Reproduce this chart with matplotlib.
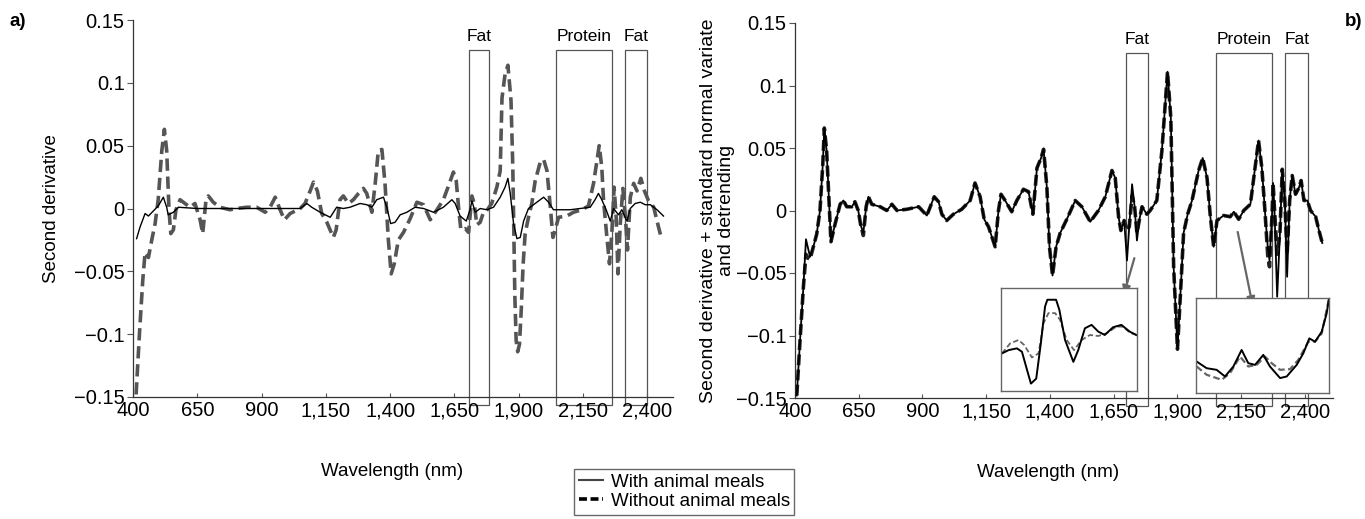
import matplotlib
matplotlib.use("Agg")
import matplotlib.pyplot as plt
from matplotlib.lines import Line2D
from matplotlib.patches import Rectangle

plt.rcParams['font.family'] = ['Liberation Sans', 'DejaVu Sans']

# ---- data ----
x_ticks = [400, 650, 900, 1150, 1400, 1650, 1900, 2150, 2400]
x_tick_labels = ['400', '650', '900', '1,150', '1,400', '1,650', '1,900', '2,150', '2,400']
y_ticks = [-0.15, -0.1, -0.05, 0, 0.05, 0.1, 0.15]
y_tick_labels = ['\u22120.15', '\u22120.1', '\u22120.05', '0', '0.05', '0.1', '0.15']

region_names = ['Fat', 'Protein', 'Fat']
a_region_start = [1707, 2046, 2314]
a_region_end = [1785, 2264, 2400]
b_region_start = [1699, 2052, 2323]
b_region_end = [1785, 2272, 2413]

# panel a, with animal meals (solid)
a_with_wl = [414, 427, 447, 460, 479, 498, 518, 531, 537, 557, 576, 650, 750, 850, 950, 1050,
             1076, 1095, 1128, 1167, 1192, 1218, 1244, 1283, 1309, 1329, 1348, 1374, 1387, 1402,
             1419, 1439, 1465, 1497, 1530, 1569, 1607, 1640, 1653, 1672, 1696, 1711, 1718, 1731,
             1750, 1776, 1802, 1828, 1847, 1858, 1867, 1880, 1893, 1906, 1919, 1938, 1964, 1997,
             2016, 2035, 2061, 2100, 2139, 2178, 2197, 2210, 2223, 2240, 2256, 2269, 2288, 2301,
             2321, 2334, 2353, 2373, 2392, 2412, 2438, 2463]
a_with = [-0.024, -0.015, -0.004, -0.006, -0.002, 0.002, 0.009, 0.001, -0.005, -0.003, 0.001, 0.0,
          0.0, 0.0, 0.0, 0.0, 0.004, 0.001, -0.003, -0.007, 0.001, 0.0, 0.001, 0.004, 0.003, 0.001,
          0.007, 0.009, 0.001, -0.012, -0.011, -0.005, -0.003, 0.001, 0.0, -0.003, 0.001, 0.007,
          0.004, -0.006, -0.010, -0.001, 0.006, -0.003, 0.0, -0.001, 0.001, 0.009, 0.017, 0.024,
          0.012, -0.012, -0.024, -0.023, -0.010, 0.0, 0.004, 0.009, 0.005, -0.001, -0.001, -0.001,
          0.0, 0.001, 0.007, 0.012, 0.007, -0.001, -0.010, 0.0, -0.005, -0.001, -0.010, 0.0, 0.004,
          0.005, 0.003, 0.003, -0.001, -0.006]

# panel a, without animal meals (dashed)
a_without_wl = [412, 425, 438, 447, 460, 473, 486, 498, 512, 522, 531, 540, 547, 557, 567, 583, 602,
                622, 641, 661, 671, 684, 693, 712, 738, 777, 803, 842, 881, 914, 933, 953, 972, 989,
                1011, 1050, 1069, 1089, 1102, 1117, 1134, 1154, 1179, 1190, 1205, 1218, 1238, 1257,
                1277, 1296, 1309, 1329, 1342, 1354, 1368, 1380, 1393, 1404, 1416, 1432, 1452, 1478,
                1504, 1530, 1556, 1582, 1607, 1627, 1646, 1657, 1666, 1675, 1692, 1705, 1718, 1727,
                1737, 1750, 1763, 1778, 1795, 1815, 1828, 1835, 1847, 1858, 1870, 1877, 1881, 1885,
                1890, 1896, 1903, 1910, 1917, 1925, 1938, 1951, 1964, 1984, 1997, 2010, 2023, 2033,
                2042, 2055, 2087, 2113, 2145, 2171, 2191, 2213, 2223, 2230, 2243, 2253, 2262, 2271,
                2279, 2286, 2295, 2305, 2315, 2323, 2334, 2347, 2360, 2375, 2389, 2405, 2425, 2444,
                2454]
a_without = [-0.148, -0.100, -0.057, -0.035, -0.039, -0.025, -0.012, 0.007, 0.046, 0.063, 0.046,
             -0.001, -0.020, -0.017, -0.001, 0.007, 0.004, 0.001, 0.004, -0.009, -0.020, 0.007,
             0.010, 0.005, 0.001, -0.001, 0.0, 0.001, 0.001, -0.003, 0.001, 0.009, -0.001, -0.009,
             -0.004, 0.0, 0.004, 0.014, 0.021, 0.014, -0.004, -0.011, -0.023, -0.017, 0.007, 0.010,
             0.004, 0.007, 0.012, 0.016, 0.012, -0.003, 0.020, 0.046, 0.047, 0.020, -0.025, -0.052,
             -0.044, -0.025, -0.019, -0.008, 0.005, 0.003, -0.009, -0.001, 0.007, 0.018, 0.029,
             0.022, 0.001, -0.017, -0.016, -0.019, 0.010, 0.004, -0.013, -0.011, -0.003, -0.001,
             0.004, 0.017, 0.030, 0.088, 0.107, 0.114, 0.086, 0.033, -0.020, -0.070, -0.105,
             -0.114, -0.108, -0.080, -0.045, -0.020, -0.007, 0.004, 0.022, 0.037, 0.039, 0.030,
             0.001, -0.023, -0.017, -0.007, -0.006, -0.003, -0.001, 0.002, 0.020, 0.050, 0.033,
             0.006, -0.023, -0.044, -0.020, 0.017, -0.007, -0.052, -0.012, 0.016, -0.007, -0.033,
             0.009, 0.020, 0.014, 0.024, 0.014, 0.006, 0.001, -0.015, -0.023]

# panel b (same wavelengths for both series)
b_wl = [407, 420, 433, 443, 451, 459, 472, 485, 498, 509, 515, 524, 535, 541, 557, 577, 590, 603,
        623, 635, 648, 658, 668, 679, 688, 701, 734, 760, 780, 800, 839, 885, 917, 946, 963, 976,
        995, 1021, 1054, 1087, 1106, 1126, 1142, 1159, 1172, 1185, 1198, 1208, 1224, 1250, 1270,
        1296, 1316, 1333, 1349, 1365, 1375, 1388, 1398, 1410, 1424, 1440, 1466, 1499, 1525, 1558,
        1590, 1617, 1643, 1656, 1669, 1678, 1691, 1702, 1711, 1722, 1732, 1741, 1751, 1761, 1780,
        1793, 1819, 1839, 1861, 1874, 1885, 1900, 1914, 1924, 1940, 1957, 1983, 1999, 2016, 2029,
        2042, 2055, 2081, 2107, 2121, 2140, 2160, 2186, 2201, 2218, 2231, 2244, 2254, 2261, 2271,
        2275, 2280, 2291, 2302, 2311, 2321, 2330, 2340, 2350, 2363, 2376, 2385, 2396, 2409, 2422,
        2442, 2455, 2468]
b_with = [-0.148, -0.103, -0.061, -0.023, -0.030, -0.037, -0.029, -0.019, 0.000, 0.037, 0.066,
          0.048, 0.000, -0.025, -0.011, 0.005, 0.008, 0.003, 0.003, 0.007, 0.000, -0.012, -0.018,
          0.003, 0.011, 0.005, 0.003, 0.000, 0.005, 0.000, 0.001, 0.003, -0.004, 0.011, 0.007,
          -0.003, -0.008, -0.003, 0.001, 0.008, 0.022, 0.011, -0.007, -0.013, -0.021, -0.029,
          0.000, 0.013, 0.008, -0.001, 0.008, 0.017, 0.015, -0.003, 0.034, 0.042, 0.049, 0.018,
          -0.029, -0.052, -0.029, -0.018, -0.007, 0.008, 0.003, -0.009, 0.000, 0.011, 0.032, 0.026,
          -0.005, -0.016, -0.008, -0.040, -0.013, 0.021, 0.003, -0.024, -0.007, 0.003, -0.003,
          0.000, 0.008, 0.048, 0.111, 0.074, -0.045, -0.111, -0.058, -0.018, -0.003, 0.008, 0.032,
          0.042, 0.026, -0.005, -0.029, -0.008, -0.004, -0.005, -0.001, -0.007, 0.000, 0.005,
          0.029, 0.056, 0.034, -0.003, -0.029, -0.040, -0.003, 0.022, 0.003, -0.069, -0.018,
          0.033, 0.008, -0.053, 0.008, 0.028, 0.013, 0.018, 0.024, 0.008, 0.008, 0.000, -0.005,
          -0.016, -0.026]
b_without = [-0.148, -0.103, -0.061, -0.035, -0.038, -0.039, -0.029, -0.019, 0.000, 0.037, 0.066,
             0.048, 0.000, -0.025, -0.011, 0.005, 0.008, 0.003, 0.003, 0.007, 0.000, -0.012, -0.020,
             0.003, 0.011, 0.005, 0.003, 0.000, 0.005, 0.000, 0.001, 0.003, -0.004, 0.011, 0.007,
             -0.003, -0.008, -0.003, 0.001, 0.008, 0.022, 0.011, -0.007, -0.013, -0.021, -0.029,
             0.000, 0.013, 0.008, -0.001, 0.008, 0.017, 0.015, -0.003, 0.034, 0.042, 0.049, 0.018,
             -0.029, -0.052, -0.029, -0.018, -0.007, 0.008, 0.003, -0.009, 0.000, 0.011, 0.032,
             0.026, -0.005, -0.016, -0.008, -0.016, -0.013, 0.012, 0.003, -0.018, -0.007, 0.003,
             -0.003, 0.000, 0.008, 0.048, 0.111, 0.074, -0.045, -0.111, -0.058, -0.018, -0.003,
             0.008, 0.032, 0.042, 0.026, -0.005, -0.029, -0.008, -0.004, -0.005, -0.001, -0.007,
             0.000, 0.005, 0.029, 0.056, 0.034, -0.003, -0.036, -0.045, -0.003, 0.022, 0.003,
             -0.035, -0.018, 0.033, 0.008, -0.035, 0.008, 0.028, 0.013, 0.018, 0.024, 0.008, 0.008,
             0.000, -0.005, -0.016, -0.026]

# insets (zoomed details, arbitrary units 0..1)
in1_with_x = [0.007, 0.056, 0.117, 0.154, 0.185, 0.22, 0.259, 0.293, 0.324, 0.341, 0.405, 0.429,
              0.471, 0.532, 0.568, 0.617, 0.666, 0.715, 0.763, 0.824, 0.885, 0.946, 0.995]
in1_with_y = [0.365, 0.397, 0.414, 0.381, 0.235, 0.072, 0.12, 0.463, 0.821, 0.886, 0.886, 0.788,
              0.495, 0.283, 0.397, 0.609, 0.642, 0.577, 0.544, 0.619, 0.642, 0.577, 0.544]
in1_without_x = [0.007, 0.068, 0.129, 0.171, 0.227, 0.276, 0.312, 0.349, 0.398, 0.434, 0.483,
                 0.537, 0.593, 0.654, 0.715, 0.776, 0.849, 0.898, 0.946, 0.995]
in1_without_y = [0.365, 0.463, 0.495, 0.446, 0.326, 0.365, 0.658, 0.756, 0.756, 0.691, 0.495,
                 0.397, 0.495, 0.544, 0.534, 0.560, 0.625, 0.625, 0.567, 0.544]
in2_with_x = [0.005, 0.080, 0.155, 0.218, 0.281, 0.343, 0.393, 0.444, 0.506, 0.556, 0.632, 0.682,
              0.757, 0.807, 0.852, 0.895, 0.945, 0.982, 1.0]
in2_with_y = [0.331, 0.261, 0.244, 0.174, 0.279, 0.453, 0.314, 0.296, 0.401, 0.279, 0.157, 0.174,
              0.296, 0.418, 0.575, 0.540, 0.645, 0.836, 0.993]
in2_without_x = [0.005, 0.080, 0.193, 0.256, 0.331, 0.393, 0.456, 0.519, 0.569, 0.632, 0.707,
                 0.769, 0.845, 0.895, 0.945, 1.0]
in2_without_y = [0.279, 0.192, 0.139, 0.209, 0.383, 0.279, 0.296, 0.383, 0.314, 0.244, 0.251,
                 0.348, 0.540, 0.540, 0.627, 0.993]

W, H = 1365, 519
fig = plt.figure(figsize=(13.65, 5.19), dpi=100)


def style_axes(ax, xmax):
    ax.set_xlim(400, xmax)
    ax.set_ylim(-0.15, 0.15)
    for s in ['top', 'right']:
        ax.spines[s].set_visible(False)
    for s in ['left', 'bottom']:
        ax.spines[s].set_color('#333333')
        ax.spines[s].set_linewidth(0.9)
    ax.set_xticks(x_ticks)
    ax.set_xticklabels(x_tick_labels)
    ax.set_yticks(y_ticks)
    ax.set_yticklabels(y_tick_labels)
    ax.tick_params(axis='x', direction='in', length=3, color='#555555', labelsize=14.5, pad=3)
    ax.tick_params(axis='y', direction='out', length=4, color='#555555', labelsize=14.5, pad=2)
    ax.set_xlabel('Wavelength (nm)', fontsize=13.5)


def draw_regions(ax, starts, ends):
    for name, x0, x1 in zip(region_names, starts, ends):
        ax.add_patch(Rectangle((x0, -0.156), x1 - x0, 0.282, fill=False, edgecolor='#555555',
                               linewidth=0.9, clip_on=False, zorder=1))
        ax.text((x0 + x1) / 2, 0.131, name, ha='center', va='bottom', fontsize=12.5)


# panel a
ax1 = fig.add_axes([133 / W, 1 - 397 / H, 540 / W, 377 / H])
style_axes(ax1, 2500)
draw_regions(ax1, a_region_start, a_region_end)
ax1.plot(a_without_wl, a_without, color='#555555', lw=2.6, dashes=(3.4, 1.6), zorder=3)
ax1.plot(a_with_wl, a_with, color='black', lw=1.0, zorder=4)
ax1.set_ylabel('Second derivative', fontsize=13.5)
ax1.yaxis.set_label_coords(-0.135, 0.5)
ax1.xaxis.set_label_coords(0.48, -0.175)

# panel b
ax2 = fig.add_axes([795 / W, 1 - 398 / H, 538 / W, 375 / H])
style_axes(ax2, 2510)
draw_regions(ax2, b_region_start, b_region_end)
ax2.plot(b_wl, b_without, color='#222222', lw=2.6, dashes=(3.0, 1.2), zorder=3)
ax2.plot(b_wl, b_with, color='black', lw=1.3, zorder=4)
ax2.set_ylabel('Second derivative + standard normal variate\nand detrending', fontsize=14,
               linespacing=1.05)
ax2.yaxis.set_label_coords(-0.112, 0.5)
ax2.xaxis.set_label_coords(0.47, -0.175)

# arrows to the insets
ax2.annotate('', xy=(1687, -0.069), xytext=(1734, -0.036),
             arrowprops=dict(arrowstyle='-|>', color='#666666', lw=1.6, mutation_scale=12),
             zorder=6)
ax2.annotate('', xy=(2197, -0.078), xytext=(2134, -0.015),
             arrowprops=dict(arrowstyle='-|>', color='#666666', lw=1.6, mutation_scale=12),
             zorder=6)

# insets
ins1 = fig.add_axes([1001 / W, 1 - 391 / H, 136 / W, 103 / H])
ins1.plot(in1_without_x, in1_without_y, color='#666666', lw=1.3, dashes=(3, 1.5))
ins1.plot(in1_with_x, in1_with_y, color='black', lw=1.4)
ins2 = fig.add_axes([1196 / W, 1 - 393 / H, 133 / W, 95 / H])
ins2.plot(in2_without_x, in2_without_y, color='#666666', lw=1.6, dashes=(3, 1.5))
ins2.plot(in2_with_x, in2_with_y, color='black', lw=1.4)
for ins in (ins1, ins2):
    ins.set_xlim(0, 1)
    ins.set_ylim(0, 1)
    ins.set_xticks([])
    ins.set_yticks([])
    ins.set_facecolor('white')
    for s in ins.spines.values():
        s.set_color('#666666')
        s.set_linewidth(1.0)

# panel letters
fig.text(10 / W, 1 - 22 / H, 'a)', fontsize=13.5, fontweight='bold', va='center')
fig.text(1362 / W, 1 - 22 / H, 'b)', fontsize=13.5, fontweight='bold', va='center', ha='right')

# legend
handles = [Line2D([0], [0], color='#444444', lw=1.5),
           Line2D([0], [0], color='black', lw=2.6, dashes=(2.2, 1.0))]
fig.legend(handles, ['With animal meals', 'Without animal meals'], loc='upper left',
           bbox_to_anchor=(574 / W, 1 - 469 / H), fontsize=13.5, frameon=True, fancybox=False,
           edgecolor='#444444', handlelength=1.3, handletextpad=0.4, borderpad=0.25,
           labelspacing=0.1, borderaxespad=0)

fig.savefig('out.png', dpi=100)
